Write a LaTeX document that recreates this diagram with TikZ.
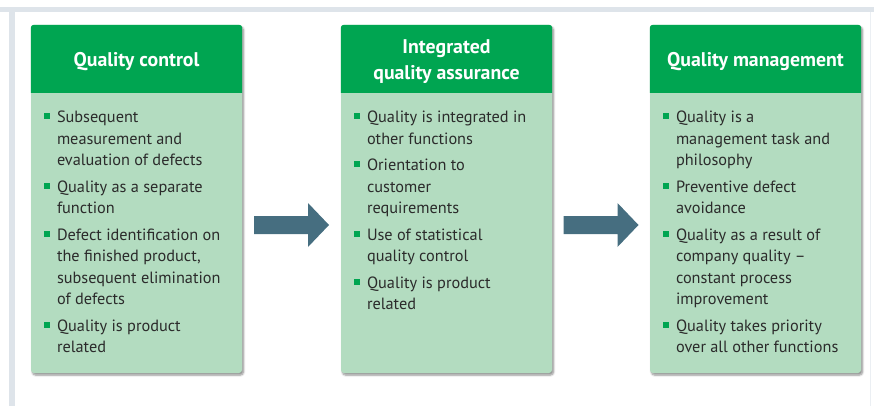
\documentclass[tikz,border=0pt]{standalone}
\usepackage{fontspec}
\setmainfont{PT Sans}
\usetikzlibrary{calc,shadows.blur}
\definecolor{hdrgreen}{HTML}{00A551}
\definecolor{bodygreen}{HTML}{B3DCC0}
\definecolor{arrowblue}{HTML}{466E80}
\definecolor{framegray}{HTML}{DEE4EA}
\definecolor{txt}{HTML}{2B2B2B}
% bullet list helpers
\newcommand\bulletsq{\makebox[13pt][l]{\textcolor{hdrgreen}{\rule[3.5pt]{6pt}{6pt}}}}
\newcommand\firstitm[1]{\noindent\hangindent=13pt\hangafter=1\bulletsq #1\par}
\newcommand\itm[1]{\vspace{5pt}\noindent\hangindent=13pt\hangafter=1\bulletsq #1\par}
\newcommand\itemlist[1]{\parbox[t]{200pt}{\raggedright\let\\\newline\fontsize{16.3}{21.5}\selectfont #1}}
\tikzset{
  panel/.style={fill=bodygreen, rounded corners=3pt, minimum width=211pt, minimum height=348pt,
    inner sep=0pt, blur shadow={shadow xshift=1.5pt, shadow yshift=-2pt, shadow blur steps=6, shadow opacity=45}},
  header/.style={fill=hdrgreen},
  title/.style={text=white, font=\fontsize{19.8}{26}\selectfont\bfseries, align=center, inner sep=0pt},
  items/.style={text=txt, inner sep=0pt, anchor=north west},
  flow/.style={fill=arrowblue}
}
\begin{document}
\begin{tikzpicture}[x=1pt,y=-1pt]
\useasboundingbox (0,0) rectangle (874,406);
% page frame
\fill[framegray] (0,7) rectangle (874,12);
\fill[framegray] (9,12) rectangle (15,406);
\draw[framegray!60, line width=0.6pt] (870,12) -- (870,406);

% panels
\node[panel] (qc) at (136.5,199) {};
\node[panel] (qa) at (446.5,199) {};
\node[panel] (qm) at (755.5,199) {};

% green headers
\foreach \p in {qc,qa,qm}{
  \fill[header] ($(\p.north west)+(0,68)$) [rounded corners=3pt] -- (\p.north west) -- (\p.north east) [sharp corners] -- ($(\p.north east)+(0,68)$) -- cycle;
}

\node[title] (qct) at ($(qc.north)+(0,37)$) {Quality control};
\node[title] (qat) at ($(qa.north)+(0,37)$) {Integrated\\quality assurance};
\node[title] (qmt) at ($(qm.north)+(0,37)$) {Quality management};

% bullet lists
\node[items] (qcl) at ($(qc.north west)+(13,86)$) {\itemlist{%
\firstitm{Subsequent\\measurement and\\evaluation of defects}
\itm{Quality as a separate\\function}
\itm{Defect identification on\\the finished product,\\subsequent elimination\\of defects}
\itm{Quality is product\\related}}};

\node[items] (qal) at ($(qa.north west)+(13,86)$) {\itemlist{%
\firstitm{Quality is integrated in\\other functions}
\itm{Orientation to\\customer\\requirements}
\itm{Use of statistical\\quality control}
\itm{Quality is product\\related}}};

\node[items] (qml) at ($(qm.north west)+(13,86)$) {\itemlist{%
\firstitm{Quality is a\\management task and\\philosophy}
\itm{Preventive defect\\avoidance}
\itm{Quality as a result of\\company quality --\\constant process\\improvement}
\itm{Quality takes priority\\over all other functions}}};

% flow arrows between panels
\coordinate (m1) at ($($(qc.east)!0.5!(qa.west)$)+(0,26)$);
\coordinate (m2) at ($($(qa.east)!0.5!(qm.west)$)+(0,26)$);
\foreach \m in {m1,m2}{
  \fill[flow] ($(\m)+(-37.5,-9)$) -- ++(54,0) -- ++(0,-13) -- ++(21,22) -- ++(-21,22) -- ++(0,-13) -- ++(-54,0) -- cycle;
}
\end{tikzpicture}
\end{document}
